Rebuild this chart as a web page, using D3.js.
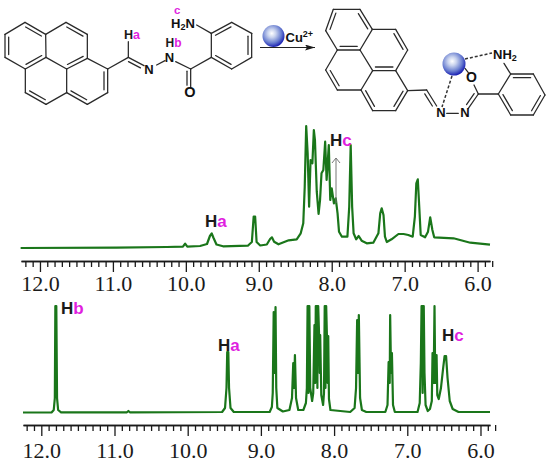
<!DOCTYPE html>
<html><head><meta charset="utf-8">
<script src="https://cdn.jsdelivr.net/npm/d3@7"></script>
<style>html,body{margin:0;padding:0;background:#fff}svg{display:block}</style>
</head><body><svg id="c" width="550" height="463"></svg>
<script>
// chemical-shift / intensity readings
const topPpm=[12.265,10.95,10.26,10.04,10.01,9.98,9.805,9.71,9.67,9.645,9.62,9.58,9.49,9.15,9.095,9.07,9.05,9.03,8.98,8.89,8.845,8.82,8.79,8.73,8.66,8.59,8.48,8.425,8.39,8.37,8.35,8.33,8.31,8.29,8.265,8.245,8.23,8.205,8.18,8.16,8.14,8.115,8.09,8.07,8.04,8.02,8.0,7.97,7.945,7.92,7.90,7.86,7.785,7.76,7.74,7.72,7.70,7.665,7.63,7.59,7.52,7.43,7.36,7.335,7.315,7.29,7.27,7.245,7.18,7.085,7.015,6.95,6.89,6.86,6.84,6.82,6.80,6.78,6.72,6.68,6.65,6.62,6.595,6.33,6.10,5.83];
const topInt=[0,0.3,1,1.3,4.3,1.3,2,4,12,14.5,10,3.5,1.7,2.3,6,31.5,31.5,6,2.5,3.5,9,10.7,6.3,3.7,5.7,7.7,8.7,14.7,24.7,61.3,122,94.7,41.3,88,84.7,118,108,56.3,34,48,74.7,78,106.3,68,103,48,59.7,44.7,49.7,34.7,16.3,11.3,11.3,41.3,103,41.3,14.7,8.7,12,7.3,4.7,5.3,14.7,34.7,39.7,33,11.3,6,8.7,14,14,13,11.3,31.3,64.7,68.7,41.3,13,10.7,16.3,30.7,18,10.7,9.7,5.3,3.3];
const bottomPpm=[12.25,11.86,11.83,11.815,11.808,11.795,11.785,11.77,11.73,10.83,10.81,10.79,9.53,9.49,9.47,9.46,9.445,9.435,9.415,9.37,8.88,8.85,8.838,8.825,8.812,8.80,8.79,8.775,8.70,8.61,8.575,8.558,8.547,8.535,8.52,8.49,8.42,8.385,8.372,8.362,8.35,8.35,8.35,8.338,8.326,8.30,8.285,8.268,8.258,8.25,8.238,8.228,8.228,8.228,8.217,8.205,8.196,8.19,8.175,8.15,8.138,8.128,8.118,8.118,8.118,8.108,8.098,8.088,8.08,8.07,8.05,7.78,7.72,7.70,7.685,7.675,7.662,7.645,7.62,7.56,7.30,7.27,7.255,7.24,7.234,7.222,7.21,7.195,7.17,6.86,6.83,6.815,6.805,6.79,6.79,6.79,6.775,6.765,6.75,6.72,6.69,6.665,6.655,6.64,6.628,6.618,6.60,6.59,6.57,6.54,6.51,6.49,6.47,6.45,6.42,6.38,6.3,5.87];
const bottomInt=[0.5,0.5,3,15,107,107,15,3,0.7,0.7,2,0.7,1,5,25,61,61,25,5,1,1,6,20,101,40,106,25,5,1.5,3,15,50,25,58,15,3,3,10,25,107,107,20,107,107,25,12,20,88,30,107,107,107,25,107,107,78,40,78,18,8,20,107,107,25,107,107,77,30,77,14,3,1,5,25,93,40,98,15,3,1,1,8,51,30,98,40,60,8,1,1,10,50,107,107,20,107,107,40,8,2,4,12,60,30,107,30,58,18,14,25,45,57,57,35,12,4,1,1];
const majorTicks=[12,11,10,9,8,7,6];
const minorTicks=d3.range(58,123).map(d=>d/10).filter(d=>!majorTicks.includes(d));

const GREEN="#1a761a",MAG="#e01fe0",BLK="#1a1a1a";
const SANS="'Liberation Sans',Arial,sans-serif";
const svg=d3.select("#c");
const defs=svg.append("defs");
const grad=defs.append("radialGradient").attr("id","ball").attr("cx","42%").attr("cy","38%").attr("r","62%");
[[0,"#ffffff"],[0.3,"#c9d3ee"],[0.7,"#6a7fd0"],[1,"#1c22b4"]].forEach(s=>grad.append("stop").attr("offset",s[0]).attr("stop-color",s[1]));
defs.append("marker").attr("id","ah").attr("viewBox","0 0 10 6").attr("refX",10).attr("refY",3).attr("markerWidth",10).attr("markerHeight",6).attr("markerUnits","userSpaceOnUse").attr("orient","auto").append("path").attr("d","M0,0L10,3L0,6L2,3Z").attr("fill",BLK);

function spectrum(ppm,vals,xDom,xRan,y0){
  const x=d3.scaleLinear().domain(xDom).range(xRan);
  const y=d3.scaleLinear().domain([0,107]).range([y0,y0-107]);
  svg.append("path").attr("d",d3.line().x(d=>x(d[0])).y(d=>y(d[1])).curve(d3.curveLinear)(ppm.map((p,i)=>[p,vals[i]])))
    .attr("fill","none").attr("stroke",GREEN).attr("stroke-width",2.2).attr("stroke-linejoin","round");
  return x;
}
function axis(x,yA,padding){
  const gMin=svg.append("g").attr("transform",`translate(0,${yA})`).call(d3.axisBottom(x).tickValues(minorTicks).tickSize(6).tickSizeOuter(0).tickFormat(""));
  const gMaj=svg.append("g").attr("transform",`translate(0,${yA})`).call(d3.axisBottom(x).tickValues(majorTicks).tickSize(11).tickSizeOuter(0).tickPadding(padding).tickFormat(d3.format(".1f")));
  [gMin,gMaj].forEach(g=>{g.selectAll("path,line").attr("stroke",BLK).attr("stroke-width",1.3);});
  gMaj.selectAll("text").style("font-family","'Liberation Serif','Times New Roman',serif").style("font-size","22px").attr("fill",BLK);
}
const xTop=spectrum(topPpm,topInt,[12.26,5.83],[21,490],248);
axis(xTop,261,3);
const xBot=spectrum(bottomPpm,bottomInt,[12.25,5.87],[23,490],413);
axis(xBot,425,6);

function label(x,y,a,b,size){
  const t=svg.append("text").attr("x",x).attr("y",y).style("font-family",SANS).attr("font-weight","bold").attr("font-size",size||17);
  t.append("tspan").attr("fill",BLK).text(a);
  t.append("tspan").attr("fill",MAG).text(b);
}
label(205,227,"H","a");
label(330,146,"H","c");
label(61,314,"H","b");
label(218,351,"H","a");
label(442,341,"H","c");
svg.append("line").attr("x1",336).attr("x2",336).attr("y1",203).attr("y2",158).attr("stroke","#777").attr("stroke-width",1);
svg.append("path").attr("d","M332,163L336,158L340,163").attr("fill","none").attr("stroke","#777").attr("stroke-width",1);

// molecule drawings (decoration, in zoomed reference units); third entry = point the second line of a double bond leans toward
function mol(ox,oy,atoms,bonds){
  const g=svg.append("g").attr("transform",`translate(${ox},${oy}) scale(${1/3})`).attr("stroke","#2a2a2a").attr("stroke-width",3.8).attr("fill","none").attr("stroke-linecap","round");
  bonds.forEach(b=>{
    const A=atoms[b[0]],B=atoms[b[1]];
    g.append("line").attr("x1",A[0]).attr("y1",A[1]).attr("x2",B[0]).attr("y2",B[1]);
    if(b[2]){
      const dx=B[0]-A[0],dy=B[1]-A[1],L=Math.hypot(dx,dy);
      let nx=-dy/L,ny=dx/L;
      const mx=(A[0]+B[0])/2,my=(A[1]+B[1])/2;
      if((b[2][0]-mx)*nx+(b[2][1]-my)*ny<0){nx=-nx;ny=-ny;}
      const off=11;
      g.append("line").attr("x1",A[0]+nx*off+dx*.12).attr("y1",A[1]+ny*off+dy*.12).attr("x2",B[0]+nx*off-dx*.12).attr("y2",B[1]+ny*off-dy*.12);
    }
  });
}
const L={a1:[75,67],a2:[137,103],a3:[198,67],a4:[262,103],a5:[262,175],a6:[323,207],a7:[323,278],a8:[262,313],a9:[200,278],a10:[138,313],a11:[76,278],a12:[76,207],a13:[15,172],a14:[15,103],a15:[138,172],a16:[200,207],c1:[385,172],n1:[432,197],h1:[385,125],n2e:[470,195],n3s:[495,182],n3e:[527,185],c2:[572,207],o1:[572,262],r1:[634,172],r2:[634,100],r3:[695,67],r4:[755,100],r5:[755,172],r6:[695,207],n4:[590,75]};
const LA=[76,137],LBc=[200,137],LC=[262,243],LD=[138,243],LR=[695,137];
const LB=[["a14","a1"],["a1","a2",LA],["a2","a3"],["a3","a4",LBc],["a4","a5"],["a5","a6"],["a6","a7",LC],["a7","a8"],["a8","a9",LC],["a9","a10"],["a10","a11",LD],["a11","a12"],["a12","a13"],["a13","a14",LA],["a2","a15"],["a15","a12",LA],["a15","a16"],["a16","a5",LBc],["a16","a9"],["a6","c1"],["c1","n1",[385,230]],["c1","h1"],["n2e","n3s"],["n3e","c2"],["c2","o1",[540,235]],["c2","r1"],["r1","r6",LR],["r2","r3",LR],["r3","r4"],["r4","r5",LR],["r5","r6"],["r1","r2"],["n4","r2"]];
mol(0,0,L,LB);
const R={b1:[250,28],b2:[330,28],b3:[367,88],b4:[437,88],b5:[473,150],b6:[437,212],b7:[473,272],b8:[437,332],b9:[368,332],b10:[333,270],b11:[262,270],b12:[227,210],b13:[262,150],b14:[227,92],b15:[330,150],b16:[368,212],c1:[530,270],n1:[560,318],nn1:[590,340],nn2:[625,340],c2a:[655,325],c2:[685,282],o:[672,255],r1:[745,282],r2:[782,222],r3:[850,222],r4:[885,285],r5:[850,345],r6:[782,345],n4:[762,190],m1:[645,205],m2:[655,218]};
const RA=[295,90],RBc=[400,150],RC=[400,272],RD=[295,210],RR=[815,285];
const RB=[["b14","b1",RA],["b1","b2"],["b2","b3",RA],["b3","b4"],["b4","b5",RBc],["b5","b6"],["b6","b7"],["b7","b8",RC],["b8","b9"],["b9","b10",RC],["b10","b11"],["b11","b12",RD],["b12","b13"],["b13","b14"],["b13","b15",RA],["b15","b3"],["b15","b16"],["b16","b6",RBc],["b16","b10"],["b7","c1"],["c1","n1",[500,320]],["nn1","nn2"],["c2a","c2",[620,280]],["c2","o"],["c2","r1"],["r1","r2"],["r2","r3",RR],["r3","r4"],["r4","r5",RR],["r5","r6"],["r6","r1",RR],["n4","r2"],["m1","m2"]];
mol(250,0,R,RB);

function atom(x,y,s,size){
  svg.append("text").attr("x",x).attr("y",y).style("font-family",SANS).attr("font-weight","bold").attr("font-size",size||13).attr("fill","#111").attr("text-anchor","middle").text(s);
}
function sub(x,y,html,size){
  svg.append("text").attr("x",x).attr("y",y).style("font-family",SANS).attr("font-weight","bold").attr("font-size",size||13).attr("fill","#111").html(html);
}
atom(149,74,"N");atom(169.5,61.5,"N");atom(190,97,"O",14.5);
svg.append("text").attr("x",174).attr("y",13.5).style("font-family",SANS).attr("font-weight","bold").attr("font-size",11.5).attr("fill",MAG).text("c");
sub(171,28,'H<tspan font-size="9" dy="2">2</tspan><tspan dy="-2">N</tspan>');
label(124,39,"H","a",12.5);
label(165.5,47,"H","b",12);
atom(441,117,"N");atom(465,117,"N");atom(471.5,82,"O",14);
sub(493,59,'NH<tspan font-size="9" dy="2">2</tspan>');

// balls, dashes, reaction arrow
svg.append("circle").attr("cx",273.5).attr("cy",36).attr("r",11).attr("fill","url(#ball)");
svg.append("circle").attr("cx",454).attr("cy",64).attr("r",11.5).attr("fill","url(#ball)");
svg.append("line").attr("x1",465).attr("y1",59).attr("x2",492).attr("y2",53).attr("stroke","#333").attr("stroke-width",1.5).attr("stroke-dasharray","3 2");
svg.append("line").attr("x1",452).attr("y1",76).attr("x2",442).attr("y2",107).attr("stroke","#333").attr("stroke-width",1.5).attr("stroke-dasharray","3 2");
sub(285.5,42,'Cu<tspan font-size="9" dy="-5">2+</tspan>');
svg.append("line").attr("x1",260).attr("y1",47.5).attr("x2",315).attr("y2",47.5).attr("stroke","#222").attr("stroke-width",1.2).attr("marker-end","url(#ah)");
</script></body></html>
